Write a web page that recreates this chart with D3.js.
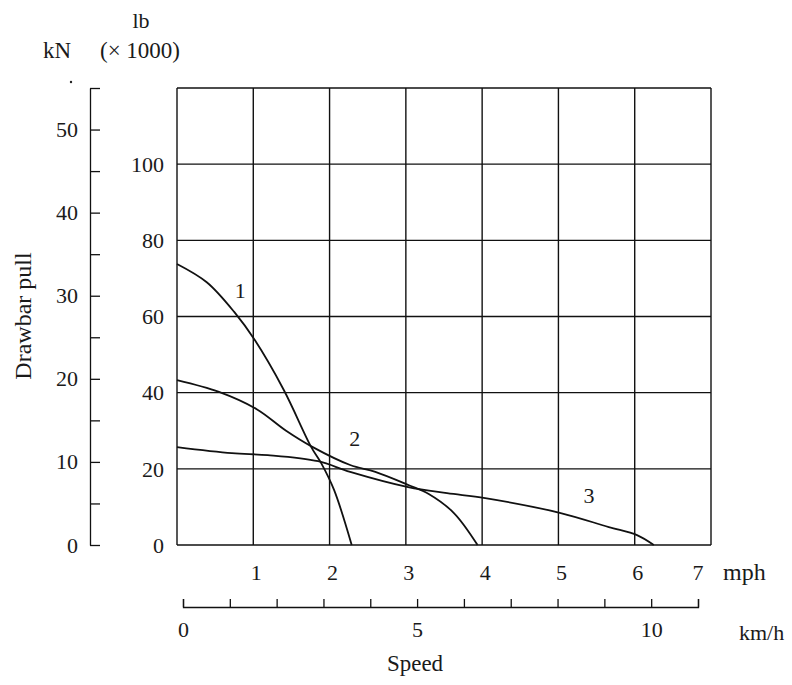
<!DOCTYPE html>
<html>
<head>
<meta charset="utf-8">
<title>Drawbar pull vs speed</title>
<style>
  body { margin: 0; background: #fff; }
  text { font-family: "Liberation Serif", "DejaVu Serif", serif; fill: #1a1a1a; }
  .grid line { stroke: #111; stroke-width: 1.4px; }
  .curve { fill: none; stroke: #111; stroke-width: 1.8px; }
  .axis path, .axis line { stroke: #111; stroke-width: 1.3px; fill: none; }
  .axis text { font-size: 22px; font-family: "Liberation Serif", serif; fill: #1a1a1a; }
</style>
</head>
<body>
<script src="https://cdn.jsdelivr.net/npm/d3@7"></script>
<script>
// speed in mph, drawbar pull in lb x 1000
const curve1 = [[0, 73.8], [0.39, 69.0], [0.75, 61.2], [1.02, 53.8], [1.40, 40.7], [1.76, 25.7], [1.89, 21.5], [2.06, 14.4], [2.29, 0]];
const curve2 = [[0, 43.3], [0.55, 40.2], [1.05, 35.6], [1.43, 30.0], [1.78, 25.7], [2.27, 21.0], [2.6, 19.2], [3.04, 15.7], [3.3, 13.4], [3.63, 8.4], [3.94, 0]];
const curve3 = [[0, 25.7], [0.72, 24.1], [1.19, 23.6], [1.85, 22.0], [2.27, 19.2], [3.03, 15.2], [3.54, 13.6], [4.04, 12.3], [5.03, 8.4], [5.66, 4.7], [6.03, 2.6], [6.25, 0]];
const curveLabels = ["1", "2", "3"];
const labelAt = [[0.83, 67], [2.33, 28], [5.4, 13]];

const mphGrid = [0, 1, 2, 3, 4, 5, 6, 7];
const mphLabels = [1, 2, 3, 4, 5, 6, 7];
const lbGrid = [0, 20, 40, 60, 80, 100, 120];
const lbLabels = [0, 20, 40, 60, 80, 100];
const kNTicks = [0, 5, 10, 15, 20, 25, 30, 35, 40, 45, 50, 55];
const kmhTicks = [0, 1, 2, 3, 4, 5, 6, 7, 8, 9, 10, 11];
const kmhLabels = [0, 5, 10];

const W = 792, H = 685;
const svg = d3.select("body").append("svg").attr("width", W).attr("height", H);

const x = d3.scaleLinear().domain([0, 7]).range([177, 711]);
const y = d3.scaleLinear().domain([0, 120]).range([545, 88]);
const yKN = d3.scaleLinear().domain([0, 55]).range([545, 88]);
const xKmh = d3.scaleLinear().domain([0, 11]).range([183, 698]);

// grid
const grid = svg.append("g").attr("class", "grid");
grid.selectAll(".v").data(mphGrid).enter().append("line")
    .attr("x1", d => x(d)).attr("x2", d => x(d))
    .attr("y1", y(0)).attr("y2", y(120));
grid.selectAll(".h").data(lbGrid).enter().append("line")
    .attr("x1", x(0)).attr("x2", x(7))
    .attr("y1", d => y(d)).attr("y2", d => y(d));

// lb labels
svg.selectAll(".lb").data(lbLabels).enter().append("text")
    .attr("x", 164).attr("y", d => y(d)).attr("dy", "0.35em")
    .attr("text-anchor", "end").attr("font-size", 22).text(d => d);

// mph labels
svg.selectAll(".mph").data(mphLabels).enter().append("text")
    .attr("x", d => x(d) + (d === 7 ? -13 : 3)).attr("y", 572).attr("dy", "0.35em")
    .attr("text-anchor", "middle").attr("font-size", 22).text(d => d);
svg.append("text").attr("x", 723).attr("y", 572).attr("dy", "0.35em")
    .attr("font-size", 24).text("mph");

// kN axis
svg.append("g").attr("class", "axis")
    .attr("transform", "translate(90,0)")
    .call(d3.axisLeft(yKN).tickValues(kNTicks).tickSizeInner(-10).tickSizeOuter(0).tickPadding(12)
        .tickFormat(d => d % 10 === 0 && d <= 50 ? d : ""));
svg.append("circle").attr("cx", 71).attr("cy", 82).attr("r", 1.2).attr("fill", "#222");

// km/h axis
svg.append("g").attr("class", "axis")
    .attr("transform", "translate(0,607)")
    .call(d3.axisBottom(xKmh).tickValues(kmhTicks).tickSizeInner(-8).tickSizeOuter(-8).tickPadding(14)
        .tickFormat(d => kmhLabels.includes(d) ? d : ""));
svg.append("text").attr("x", 739).attr("y", 632).attr("dy", "0.35em")
    .attr("font-size", 22).text("km/h");

// unit labels
svg.append("text").attr("x", 141).attr("y", 20).attr("dy", "0.35em")
    .attr("text-anchor", "middle").attr("font-size", 22).text("lb");
svg.append("text").attr("x", 57).attr("y", 50).attr("dy", "0.35em")
    .attr("text-anchor", "middle").attr("font-size", 23).text("kN");
svg.append("text").attr("x", 140).attr("y", 50).attr("dy", "0.35em")
    .attr("text-anchor", "middle").attr("font-size", 23).text("(× 1000)");

// axis titles
svg.append("text").attr("transform", "translate(23,316) rotate(-90)")
    .attr("dy", "0.35em").attr("text-anchor", "middle").attr("font-size", 24).text("Drawbar pull");
svg.append("text").attr("x", 415).attr("y", 663).attr("dy", "0.35em")
    .attr("text-anchor", "middle").attr("font-size", 23).text("Speed");

// curves
const line = d3.line().x(d => x(d[0])).y(d => y(d[1])).curve(d3.curveCatmullRom.alpha(0.5));
svg.selectAll(".curve").data([curve1, curve2, curve3]).enter().append("path")
    .attr("class", "curve").attr("d", line);

svg.selectAll(".clabel").data(curveLabels).enter().append("text")
    .attr("x", (d, i) => x(labelAt[i][0])).attr("y", (d, i) => y(labelAt[i][1]))
    .attr("dy", "0.35em").attr("text-anchor", "middle").attr("font-size", 22).text(d => d);
</script>
</body>
</html>
